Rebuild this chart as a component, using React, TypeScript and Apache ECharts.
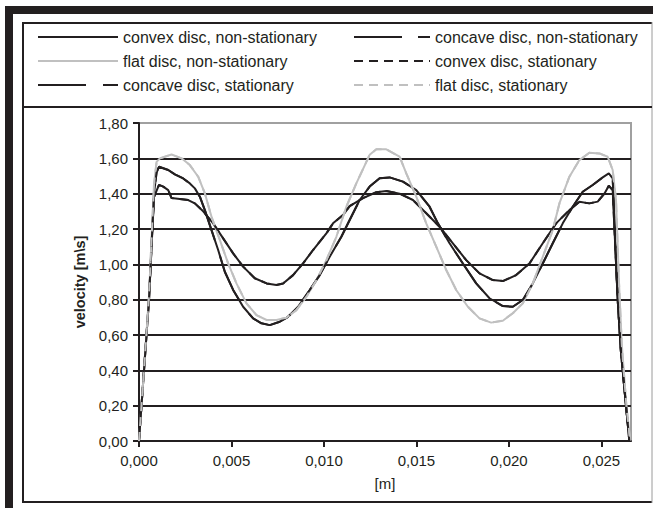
import React, { useEffect, useRef } from 'react';
import * as echarts from 'echarts';

const xTicks = [0, 0.005, 0.01, 0.015, 0.02, 0.025];
const yTicks = [0, 0.2, 0.4, 0.6, 0.8, 1.0, 1.2, 1.4, 1.6, 1.8];

const seriesNames = [
  'convex disc, non-stationary',
  'concave disc, non-stationary',
  'flat disc, non-stationary',
  'convex disc, stationary',
  'concave disc, stationary',
  'flat disc, stationary',
];

// convex disc (lower black curve with plateau)
const convexX = [0, 0.00027, 0.00054, 0.00081, 0.00108, 0.00131, 0.00158, 0.00176, 0.00221, 0.00266, 0.00302, 0.00347, 0.00401, 0.00455, 0.00509, 0.00563, 0.00626, 0.0069, 0.00743, 0.00779, 0.00833, 0.00887, 0.00941, 0.01013, 0.01049, 0.01103, 0.01139, 0.01211, 0.01283, 0.01337, 0.01409, 0.01481, 0.01553, 0.01625, 0.01697, 0.01769, 0.01841, 0.01913, 0.01967, 0.02039, 0.02111, 0.02183, 0.02255, 0.02327, 0.02381, 0.02435, 0.0248, 0.02516, 0.0254, 0.02561, 0.02575, 0.02588, 0.02606, 0.02633, 0.02651];
const convexY = [0, 0.40, 0.80, 1.38, 1.45, 1.44, 1.42, 1.375, 1.37, 1.364, 1.345, 1.30, 1.232, 1.147, 1.062, 0.987, 0.921, 0.892, 0.883, 0.892, 0.939, 1.005, 1.081, 1.175, 1.232, 1.279, 1.33, 1.375, 1.408, 1.415, 1.40, 1.364, 1.289, 1.213, 1.119, 1.024, 0.949, 0.911, 0.905, 0.939, 1.005, 1.119, 1.232, 1.307, 1.354, 1.345, 1.355, 1.40, 1.445, 1.42, 1.10, 0.80, 0.50, 0.20, 0];

// concave disc (upper black curve)
const concaveX = [0, 0.00027, 0.00054, 0.00081, 0.00095, 0.00108, 0.00158, 0.00194, 0.00239, 0.00275, 0.00302, 0.00329, 0.00356, 0.00392, 0.00428, 0.00464, 0.00509, 0.00563, 0.00617, 0.00662, 0.00707, 0.00761, 0.00806, 0.0086, 0.00923, 0.00977, 0.01031, 0.01094, 0.01139, 0.01193, 0.01247, 0.01301, 0.01355, 0.01427, 0.01499, 0.01571, 0.01616, 0.01679, 0.01751, 0.01823, 0.01895, 0.01967, 0.02021, 0.02075, 0.02129, 0.02183, 0.02237, 0.02291, 0.02345, 0.02399, 0.02453, 0.02507, 0.0254, 0.02561, 0.02575, 0.02588, 0.02606, 0.02633, 0.02651];
const concaveY = [0, 0.40, 0.80, 1.40, 1.52, 1.552, 1.534, 1.509, 1.486, 1.458, 1.43, 1.383, 1.307, 1.194, 1.081, 0.958, 0.855, 0.76, 0.694, 0.666, 0.656, 0.675, 0.703, 0.76, 0.855, 0.939, 1.043, 1.156, 1.251, 1.364, 1.44, 1.487, 1.492, 1.468, 1.42, 1.326, 1.232, 1.119, 1.005, 0.892, 0.808, 0.764, 0.76, 0.798, 0.892, 1.005, 1.119, 1.232, 1.326, 1.411, 1.449, 1.492, 1.515, 1.487, 1.12, 0.80, 0.50, 0.20, 0];

// flat disc (grey curve)
const flatX = [0, 0.00027, 0.00054, 0.00081, 0.00095, 0.00113, 0.00176, 0.0023, 0.00275, 0.0032, 0.00356, 0.00392, 0.00437, 0.00482, 0.00527, 0.00581, 0.00635, 0.0069, 0.00743, 0.00797, 0.00851, 0.00905, 0.0096, 0.01013, 0.01067, 0.01121, 0.01175, 0.01247, 0.01283, 0.01337, 0.01409, 0.01445, 0.01499, 0.01553, 0.01607, 0.01661, 0.01715, 0.01778, 0.01841, 0.01904, 0.01967, 0.02021, 0.02075, 0.02129, 0.02183, 0.02237, 0.02273, 0.02327, 0.02381, 0.02435, 0.02489, 0.02534, 0.02561, 0.02579, 0.02595, 0.0261, 0.02635, 0.02656];
const flatY = [0, 0.40, 0.82, 1.45, 1.58, 1.60, 1.622, 1.60, 1.562, 1.496, 1.402, 1.269, 1.138, 1.005, 0.892, 0.779, 0.713, 0.685, 0.685, 0.698, 0.741, 0.817, 0.911, 1.024, 1.156, 1.326, 1.458, 1.62, 1.651, 1.651, 1.609, 1.515, 1.383, 1.232, 1.10, 0.968, 0.855, 0.76, 0.694, 0.67, 0.681, 0.723, 0.779, 0.892, 1.043, 1.194, 1.345, 1.496, 1.59, 1.632, 1.628, 1.609, 1.534, 1.364, 0.90, 0.55, 0.20, 0];

const pairs = (xs: number[], ys: number[]) => xs.map((x, i) => [x, ys[i]]);

const DARK = '#231f20';
const GREY = '#c0c0c0';
const FONT = '"Liberation Sans", Arial, sans-serif';

export default function App() {
  const ref = useRef<HTMLDivElement>(null);
  useEffect(() => {
    if (!ref.current) return;
    const chart = echarts.init(ref.current, null, { renderer: 'svg' });
    const mk = (name: string, xs: number[], ys: number[], color: string, type: any) => ({
      name,
      type: 'line',
      data: pairs(xs, ys),
      symbol: 'none',
      showSymbol: false,
      lineStyle: { color, width: 2, type },
      itemStyle: { color },
      emphasis: { disabled: true },
    });
    const textStyle = { color: DARK, fontSize: 16, fontFamily: FONT, lineHeight: 18 };
    const legendCommon = {
      orient: 'vertical',
      itemHeight: 14,
      itemGap: 6,
      top: 28,
      padding: 0,
      selectedMode: false,
      itemStyle: { opacity: 0 },
      textStyle,
    };
    chart.setOption({
      animation: false,
      backgroundColor: '#ffffff',
      textStyle: { fontFamily: FONT },
      legend: [
        {
          ...legendCommon,
          left: 37,
          itemWidth: 80,
          data: [
            { name: seriesNames[0] },
            { name: seriesNames[2] },
            { name: seriesNames[4], lineStyle: { type: [48, 17] } },
          ],
        },
        {
          ...legendCommon,
          left: 353,
          itemWidth: 76,
          data: [
            { name: seriesNames[1], lineStyle: { type: [48, 16] } },
            { name: seriesNames[3] },
            { name: seriesNames[5] },
          ],
        },
      ],
      grid: {
        left: 139,
        top: 123,
        width: 492,
        height: 318,
        show: true,
        borderColor: '#a0a0a0',
        borderWidth: 2,
        backgroundColor: '#ffffff',
      },
      xAxis: {
        type: 'value',
        min: 0,
        max: 0.0266,
        interval: 0.005,
        name: '[m]',
        nameLocation: 'middle',
        nameGap: 35,
        nameTextStyle: { color: DARK, fontSize: 15, fontFamily: FONT },
        axisLine: { show: true, onZero: false, lineStyle: { color: DARK, width: 2 } },
        axisTick: { show: true, length: 6, customValues: xTicks, lineStyle: { color: DARK, width: 2 } },
        axisLabel: {
          customValues: xTicks,
          margin: 12,
          color: DARK,
          fontSize: 15,
          fontFamily: FONT,
          formatter: (v: number) => v.toFixed(3).replace('.', ','),
        },
        splitLine: { show: false },
      },
      yAxis: {
        type: 'value',
        min: 0,
        max: 1.8,
        interval: 0.2,
        name: 'velocity [m\\s]',
        nameLocation: 'middle',
        nameGap: 51,
        nameTextStyle: { color: DARK, fontSize: 14.5, fontWeight: 'bold', fontFamily: FONT },
        axisLine: { show: true, lineStyle: { color: DARK, width: 2 } },
        axisTick: { show: true, length: 6, lineStyle: { color: DARK, width: 2 } },
        axisLabel: {
          margin: 11,
          color: DARK,
          fontSize: 15,
          fontFamily: FONT,
          formatter: (v: number) => v.toFixed(2).replace('.', ','),
        },
        splitLine: {
          show: true,
          lineStyle: {
            width: 2,
            color: yTicks.map((t, i) => (i === yTicks.length - 1 ? '#a0a0a0' : DARK)),
          },
        },
      },
      graphic: [
        { type: 'rect', shape: { x: 5, y: 6, width: 648, height: 8 }, style: { fill: DARK } },
        { type: 'rect', shape: { x: 5, y: 6, width: 8, height: 502 }, style: { fill: DARK } },
        { type: 'line', shape: { x1: 22, y1: 23, x2: 652, y2: 23 }, style: { stroke: DARK, lineWidth: 2 } },
        { type: 'line', shape: { x1: 23, y1: 22, x2: 23, y2: 503 }, style: { stroke: DARK, lineWidth: 2 } },
        { type: 'line', shape: { x1: 22, y1: 502, x2: 652, y2: 502 }, style: { stroke: DARK, lineWidth: 2 } },
        { type: 'line', shape: { x1: 652, y1: 22, x2: 652, y2: 503 }, style: { stroke: '#9a9a9a', lineWidth: 1 } },
        { type: 'line', shape: { x1: 22, y1: 107, x2: 652, y2: 107 }, style: { stroke: DARK, lineWidth: 2 } },
      ],
      series: [
        mk(seriesNames[0], convexX, convexY, DARK, 'solid'),
        mk(seriesNames[1], concaveX, concaveY, DARK, 'solid'),
        mk(seriesNames[2], flatX, flatY, GREY, 'solid'),
        mk(seriesNames[3], convexX, convexY, DARK, [9, 6]),
        mk(seriesNames[4], concaveX, concaveY, DARK, [48, 17]),
        mk(seriesNames[5], flatX, flatY, GREY, [9, 6]),
      ],
    });
    return () => chart.dispose();
  }, []);
  return (
    <div
      ref={ref}
      style={{ position: 'fixed', left: 0, top: 0, width: 653, height: 508, background: '#fff' }}
    />
  );
}
